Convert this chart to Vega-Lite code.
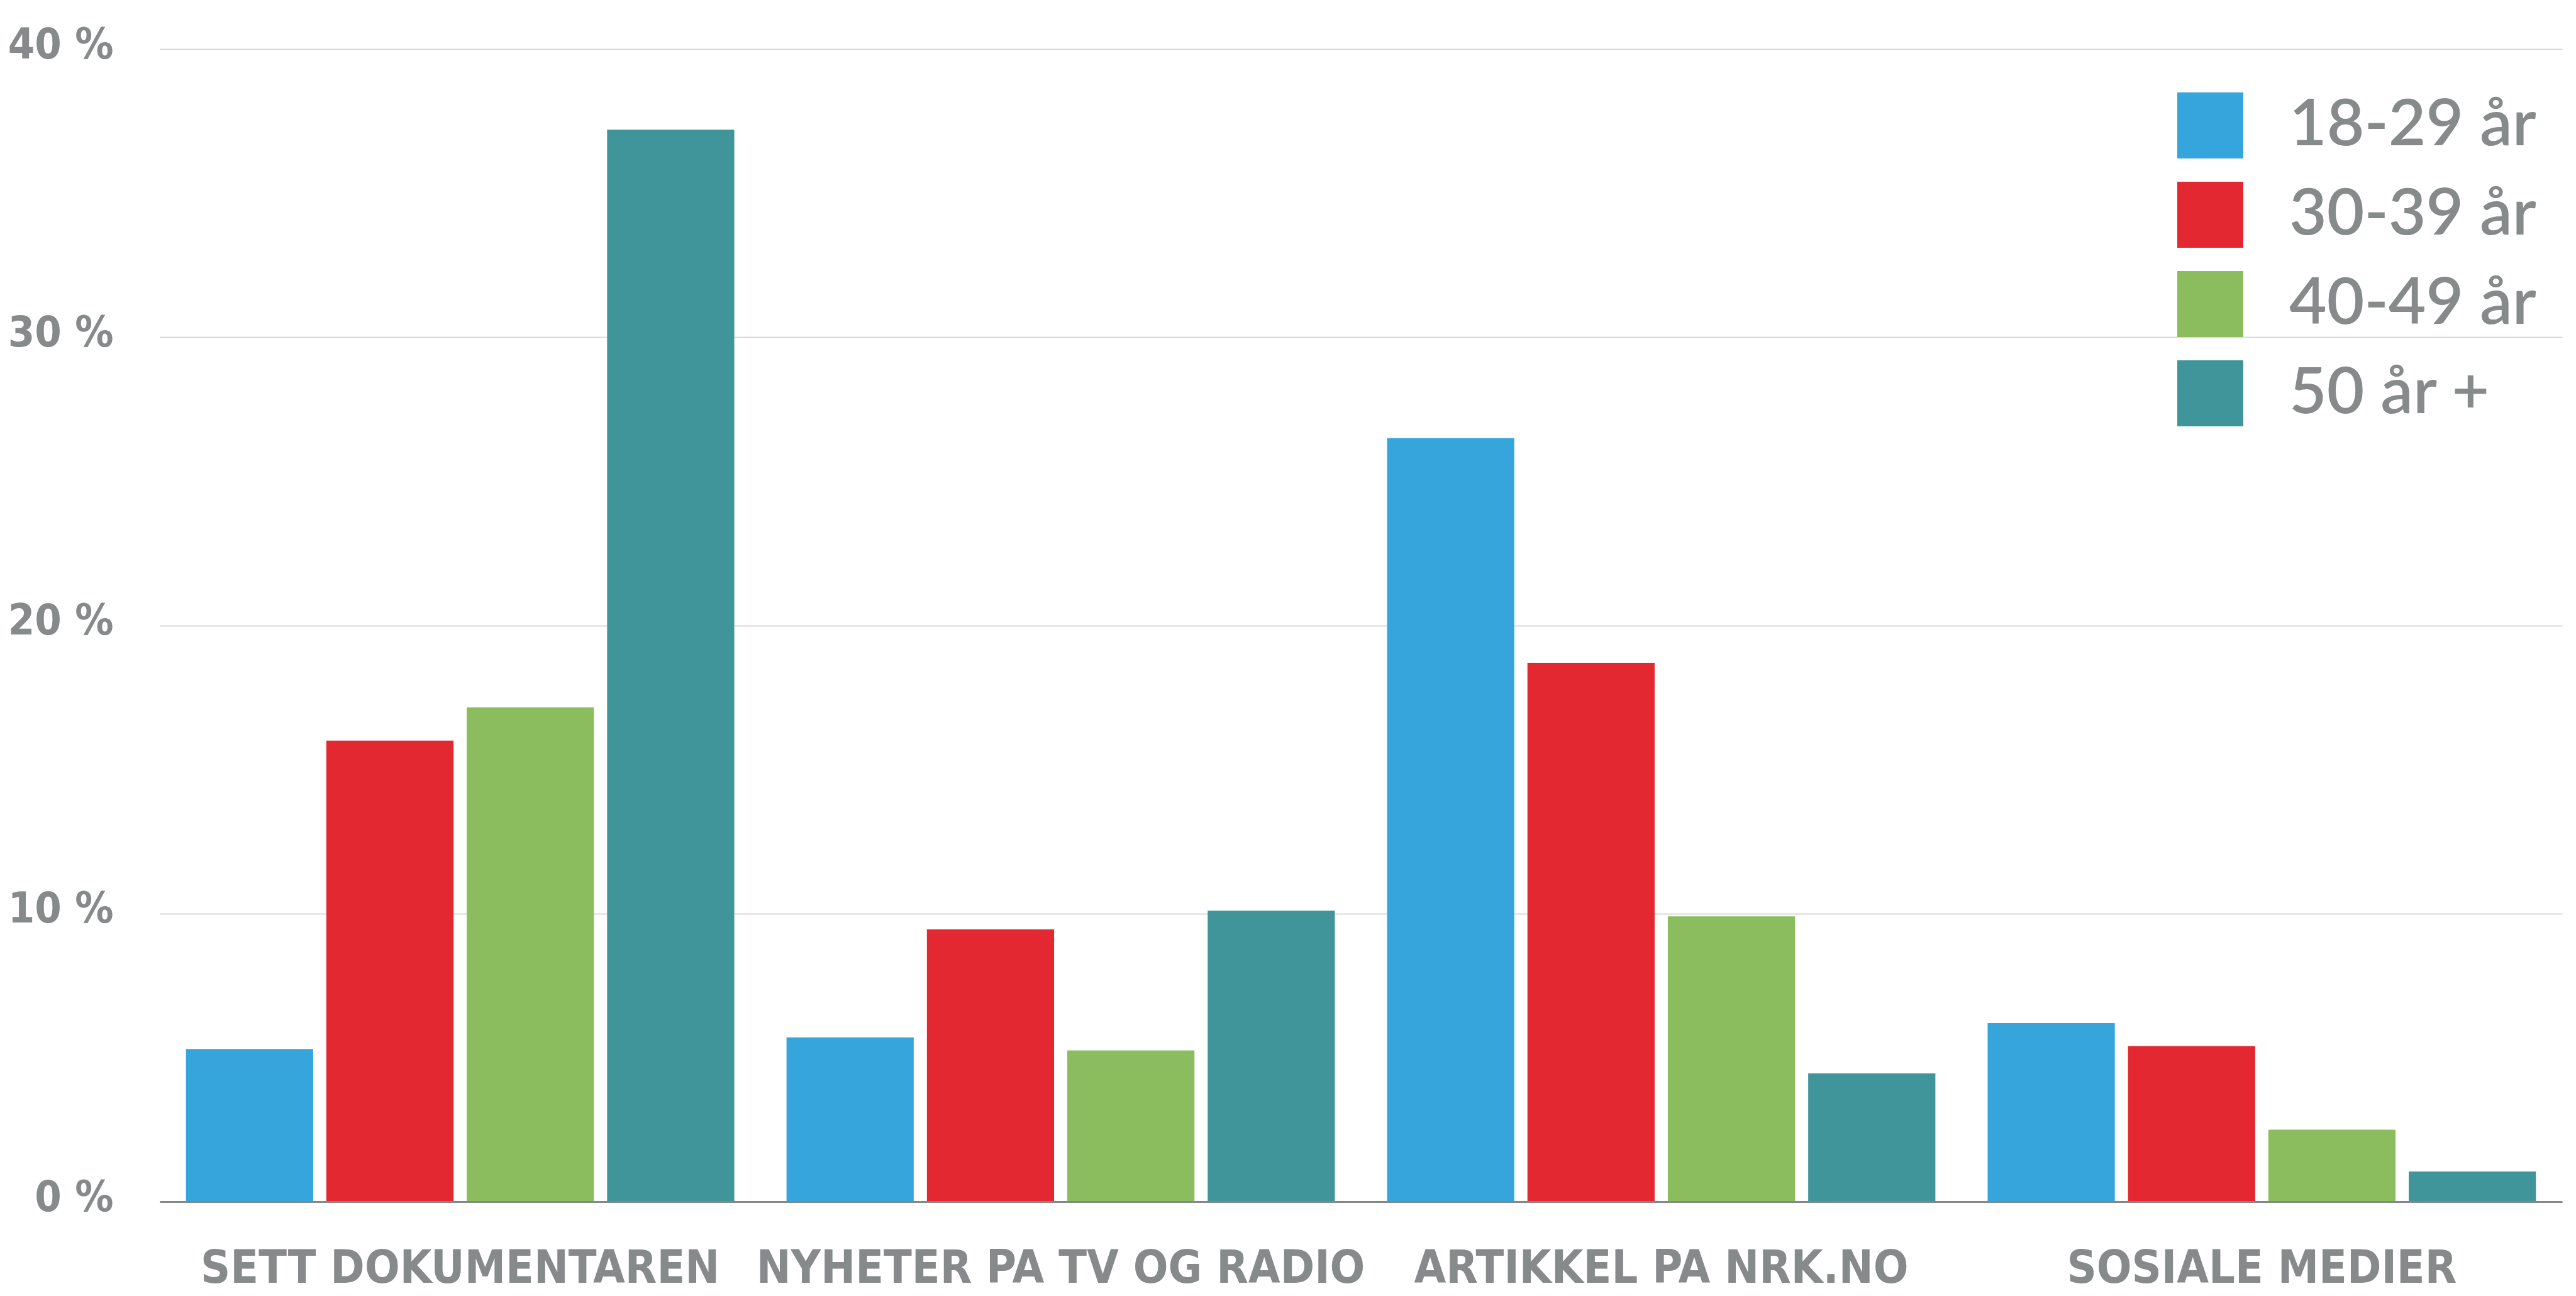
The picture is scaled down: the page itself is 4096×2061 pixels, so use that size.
{
  "$schema": "https://vega.github.io/schema/vega-lite/v6.json",
  "width": 3820,
  "height": 1833,
  "autosize": {"type": "none"},
  "padding": {"left": 254, "top": 78, "right": 22, "bottom": 150},
  "background": "white",
  "data": {
    "values": [
      {"kategori": "SETT DOKUMENTAREN", "alder": "18-29 år", "andel": 5.3},
      {"kategori": "SETT DOKUMENTAREN", "alder": "30-39 år", "andel": 16.0},
      {"kategori": "SETT DOKUMENTAREN", "alder": "40-49 år", "andel": 17.15},
      {"kategori": "SETT DOKUMENTAREN", "alder": "50 år +", "andel": 37.2},
      {"kategori": "NYHETER PA TV OG RADIO", "alder": "18-29 år", "andel": 5.7},
      {"kategori": "NYHETER PA TV OG RADIO", "alder": "30-39 år", "andel": 9.45},
      {"kategori": "NYHETER PA TV OG RADIO", "alder": "40-49 år", "andel": 5.25},
      {"kategori": "NYHETER PA TV OG RADIO", "alder": "50 år +", "andel": 10.1},
      {"kategori": "ARTIKKEL PA NRK.NO", "alder": "18-29 år", "andel": 26.5},
      {"kategori": "ARTIKKEL PA NRK.NO", "alder": "30-39 år", "andel": 18.7},
      {"kategori": "ARTIKKEL PA NRK.NO", "alder": "40-49 år", "andel": 9.9},
      {"kategori": "ARTIKKEL PA NRK.NO", "alder": "50 år +", "andel": 4.45},
      {"kategori": "SOSIALE MEDIER", "alder": "18-29 år", "andel": 6.2},
      {"kategori": "SOSIALE MEDIER", "alder": "30-39 år", "andel": 5.4},
      {"kategori": "SOSIALE MEDIER", "alder": "40-49 år", "andel": 2.5},
      {"kategori": "SOSIALE MEDIER", "alder": "50 år +", "andel": 1.05}
    ]
  },
  "mark": {"type": "bar"},
  "encoding": {
    "x": {
      "field": "kategori",
      "type": "nominal",
      "sort": ["SETT DOKUMENTAREN", "NYHETER PA TV OG RADIO", "ARTIKKEL PA NRK.NO", "SOSIALE MEDIER"],
      "scale": {"paddingInner": 0.087, "paddingOuter": 0.0437},
      "title": null,
      "axis": {
        "zindex": 1,
        "domain": true,
        "domainColor": "#858888",
        "domainWidth": 3,
        "ticks": false,
        "tickSize": 0,
        "grid": false,
        "labelAngle": 0,
        "labelFont": "DejaVu Sans Condensed, DejaVu Sans, sans-serif",
        "labelFontWeight": "bold",
        "labelFontSize": 73,
        "labelColor": "#868a8a",
        "labelBaseline": "alphabetic",
        "labelPadding": 128,
        "labelLimit": 0,
        "labelOverlap": false
      }
    },
    "xOffset": {
      "field": "alder",
      "type": "nominal",
      "sort": ["18-29 år", "30-39 år", "40-49 år", "50 år +"],
      "scale": {"paddingInner": 0.094, "paddingOuter": 0}
    },
    "y": {
      "field": "andel",
      "type": "quantitative",
      "scale": {"domain": [0, 40], "nice": false},
      "title": null,
      "axis": {
        "values": [0, 10, 20, 30, 40],
        "domain": false,
        "ticks": false,
        "tickSize": 0,
        "grid": true,
        "gridColor": "#d9d9d9",
        "gridWidth": 1.8,
        "labelExpr": "datum.value + ' %'",
        "labelFont": "DejaVu Sans Condensed, DejaVu Sans, sans-serif",
        "labelFontWeight": "bold",
        "labelFontSize": 68,
        "labelColor": "#868a8a",
        "labelBaseline": "alphabetic",
        "labelOffset": 14,
        "labelPadding": 74,
        "labelLimit": 0
      }
    },
    "color": {
      "field": "alder",
      "type": "nominal",
      "sort": ["18-29 år", "30-39 år", "40-49 år", "50 år +"],
      "scale": {
        "domain": ["18-29 år", "30-39 år", "40-49 år", "50 år +"],
        "range": ["#35a5dc", "#e32831", "#8bbd5f", "#3f9599"]
      },
      "legend": {
        "title": null,
        "orient": "none",
        "legendX": 3208,
        "legendY": 69,
        "symbolType": "square",
        "symbolSize": 11025,
        "symbolStrokeWidth": 0,
        "symbolOpacity": 1,
        "labelFont": "Lato",
        "labelFontWeight": 600,
        "labelFontSize": 103,
        "labelColor": "#868a8a",
        "labelOffset": 73,
        "rowPadding": 37,
        "padding": 0,
        "labelLimit": 0
      }
    }
  },
  "config": {"view": {"stroke": null}}
}
